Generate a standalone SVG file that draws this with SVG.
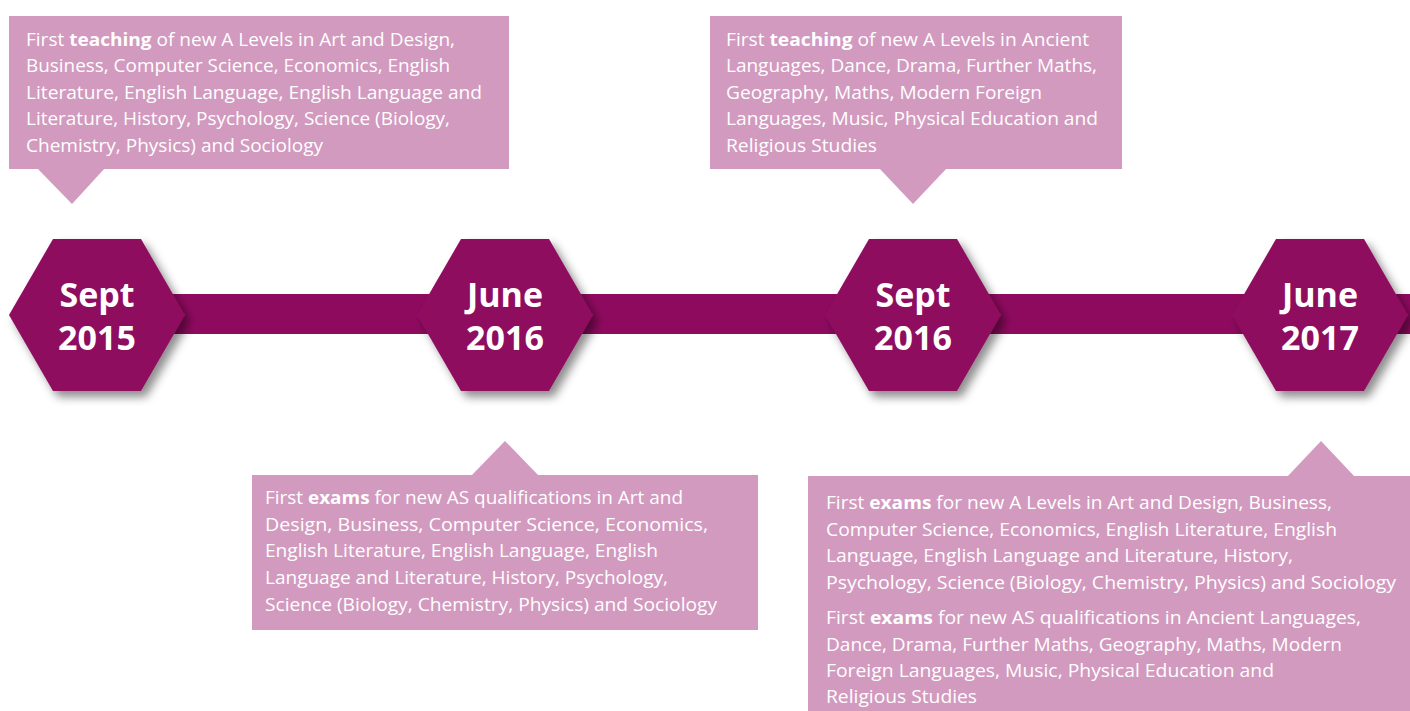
<svg xmlns="http://www.w3.org/2000/svg" width="1410" height="711" viewBox="0 0 1410 711">
<style>
.box{fill:#D29ABF}
.hex{fill:#8E0A5F}
.bar{fill:#8E0A5F}
.t{font-family:"Open Sans","Liberation Sans",sans-serif;font-size:18.5px;fill:#ffffff}
.b{font-weight:bold}
.h{font-family:"Open Sans","Liberation Sans",sans-serif;font-size:34px;font-weight:bold;fill:#ffffff;text-anchor:middle}
</style>
<defs>
<filter id="sh" x="-30%" y="-30%" width="170%" height="170%">
<feDropShadow dx="5" dy="6" stdDeviation="5" flood-color="#000000" flood-opacity="0.45"/>
</filter>
</defs>
<rect width="1410" height="711" fill="#ffffff"/>
<g id="connectors">
<rect class="bar" x="150" y="294" width="1260" height="40"/>
</g>
<g id="hex-sept-2015">
<polygon class="hex" filter="url(#sh)" points="9,315 53,239 141,239 185,315 141,391 53,391"/>
<text class="h" x="97" y="307">Sept</text>
<text class="h" x="97" y="350">2015</text>
</g>
<g id="hex-june-2016">
<polygon class="hex" filter="url(#sh)" points="417,315 461,239 549,239 593,315 549,391 461,391"/>
<text class="h" x="505" y="307">June</text>
<text class="h" x="505" y="350">2016</text>
</g>
<g id="hex-sept-2016">
<polygon class="hex" filter="url(#sh)" points="825,315 869,239 957,239 1001,315 957,391 869,391"/>
<text class="h" x="913" y="307">Sept</text>
<text class="h" x="913" y="350">2016</text>
</g>
<g id="hex-june-2017">
<polygon class="hex" filter="url(#sh)" points="1232,315 1276,239 1364,239 1408,315 1364,391 1276,391"/>
<text class="h" x="1320" y="307">June</text>
<text class="h" x="1320" y="350">2017</text>
</g>
<g id="callout-teaching-2015">
<rect class="box" x="9" y="16" width="500" height="153"/>
<polygon class="box" points="37,168 105,168 72,204"/>
<text class="t" x="26" y="46" textLength="429" lengthAdjust="spacingAndGlyphs">First <tspan class="b">teaching</tspan> of new A Levels in Art and Design,</text>
<text class="t" x="26" y="72" textLength="424" lengthAdjust="spacingAndGlyphs">Business, Computer Science, Economics, English</text>
<text class="t" x="26" y="99" textLength="456" lengthAdjust="spacingAndGlyphs">Literature, English Language, English Language and</text>
<text class="t" x="26" y="125" textLength="424" lengthAdjust="spacingAndGlyphs">Literature, History, Psychology, Science (Biology,</text>
<text class="t" x="26" y="152" textLength="297" lengthAdjust="spacingAndGlyphs">Chemistry, Physics) and Sociology</text>
</g>
<g id="callout-teaching-2016">
<rect class="box" x="710" y="16" width="412" height="153"/>
<polygon class="box" points="879,168 947,168 913,204"/>
<text class="t" x="726" y="46" textLength="363" lengthAdjust="spacingAndGlyphs">First <tspan class="b">teaching</tspan> of new A Levels in Ancient</text>
<text class="t" x="726" y="72" textLength="371" lengthAdjust="spacingAndGlyphs">Languages, Dance, Drama, Further Maths,</text>
<text class="t" x="726" y="99" textLength="316" lengthAdjust="spacingAndGlyphs">Geography, Maths, Modern Foreign</text>
<text class="t" x="726" y="125" textLength="372" lengthAdjust="spacingAndGlyphs">Languages, Music, Physical Education and</text>
<text class="t" x="726" y="152" textLength="151" lengthAdjust="spacingAndGlyphs">Religious Studies</text>
</g>
<g id="callout-exams-2016">
<rect class="box" x="252" y="475" width="506" height="155"/>
<polygon class="box" points="471,476 539,476 505,441"/>
<text class="t" x="265" y="504" textLength="418" lengthAdjust="spacingAndGlyphs">First <tspan class="b">exams</tspan> for new AS qualifications in Art and</text>
<text class="t" x="265" y="531" textLength="443" lengthAdjust="spacingAndGlyphs">Design, Business, Computer Science, Economics,</text>
<text class="t" x="265" y="557" textLength="393" lengthAdjust="spacingAndGlyphs">English Literature, English Language, English</text>
<text class="t" x="265" y="584" textLength="403" lengthAdjust="spacingAndGlyphs">Language and Literature, History, Psychology,</text>
<text class="t" x="265" y="611" textLength="452" lengthAdjust="spacingAndGlyphs">Science (Biology, Chemistry, Physics) and Sociology</text>
</g>
<g id="callout-exams-2017">
<rect class="box" x="808" y="476" width="602" height="235"/>
<polygon class="box" points="1287,477 1355,477 1321,441"/>
<text class="t" x="826" y="509" textLength="506" lengthAdjust="spacingAndGlyphs">First <tspan class="b">exams</tspan> for new A Levels in Art and Design, Business,</text>
<text class="t" x="826" y="536" textLength="511" lengthAdjust="spacingAndGlyphs">Computer Science, Economics, English Literature, English</text>
<text class="t" x="826" y="562" textLength="467" lengthAdjust="spacingAndGlyphs">Language, English Language and Literature, History,</text>
<text class="t" x="826" y="589" textLength="570" lengthAdjust="spacingAndGlyphs">Psychology, Science (Biology, Chemistry, Physics) and Sociology</text>
<text class="t" x="826" y="624" textLength="535" lengthAdjust="spacingAndGlyphs">First <tspan class="b">exams</tspan> for new AS qualifications in Ancient Languages,</text>
<text class="t" x="826" y="651" textLength="516" lengthAdjust="spacingAndGlyphs">Dance, Drama, Further Maths, Geography, Maths, Modern</text>
<text class="t" x="826" y="677" textLength="448" lengthAdjust="spacingAndGlyphs">Foreign Languages, Music, Physical Education and</text>
<text class="t" x="826" y="703" textLength="151" lengthAdjust="spacingAndGlyphs">Religious Studies</text>
</g>
</svg>
